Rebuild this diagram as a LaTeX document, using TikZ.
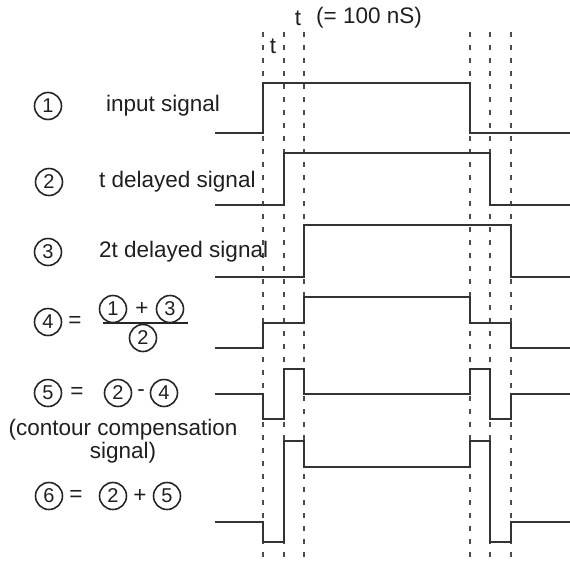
\documentclass[tikz,border=0pt]{standalone}
\usepackage{fontspec}
\setmainfont{Liberation Sans}
\begin{document}
\begin{tikzpicture}[x=1pt,y=-1pt,
  txt/.style={inner sep=0pt,font=\fontsize{22.5}{26}\selectfont,text=black!88},
  circnum/.style={draw=black!85,line width=1.6pt,circle,inner sep=0pt,minimum size=27pt,font=\fontsize{20}{23}\selectfont,text=black!88},
  sig/.style={draw=black!80,line width=2pt,line join=miter},
  guide/.style={draw=black!70,line width=1.2pt,dash pattern=on 5pt off 8pt}]
\useasboundingbox (0,0) rectangle (570,560);
% dashed time guides
\foreach \x in {263,284,304,470,490,511}{\draw[guide] (\x,32) -- (\x,560);}
% top labels
\node[txt] (tsmall) at (273,46) {t};
\node[txt] (ttop) at (298,18) {t};
\node[txt,anchor=west] (tval) at (316,18) {(= 100 nS)};
% signals
\draw[sig] (215,133) -- (263,133) -- (263,83) -- (470,83) -- (470,133) -- (570,133);
\draw[sig] (215,205) -- (284,205) -- (284,153) -- (490,153) -- (490,205) -- (570,205);
\draw[sig] (215,277) -- (304,277) -- (304,225) -- (511,225) -- (511,277) -- (570,277);
\draw[sig] (215,348) -- (263,348) -- (263,323) -- (304,323) -- (304,297) -- (470,297) -- (470,323) -- (511,323) -- (511,348) -- (570,348);
\draw[sig] (215,394) -- (263,394) -- (263,419) -- (284,419) -- (284,369) -- (304,369) -- (304,394) -- (470,394) -- (470,369) -- (490,369) -- (490,419) -- (511,419) -- (511,394) -- (570,394);
\draw[sig] (215,522) -- (263,522) -- (263,542) -- (284,542) -- (284,441) -- (304,441) -- (304,467) -- (470,467) -- (470,441) -- (490,441) -- (490,542) -- (511,542) -- (511,522) -- (570,522);
% row 1
\node[circnum] (c1) at (48,106) {1};
\node[txt] (l1) at (163,106) {input signal};
% row 2
\node[circnum] (c2) at (49,182) {2};
\node[txt,anchor=west] (l2) at (99,182) {t delayed signal};
% row 3
\node[circnum] (c3) at (48,252) {3};
\node[txt,anchor=west] (l3) at (99,252) {2t delayed signal};
% row 4
\node[circnum] (c4) at (48,322) {4};
\node[txt] (e4) at (75,322) {=};
\node[circnum] (f1) at (113,309) {1};
\node[txt] (p4) at (142,309) {+};
\node[circnum] (f3) at (170,309) {3};
\node[circnum] (f2) at (143,338) {2};
\draw[black!85,line width=1.3pt] (103,323) -- (188,323);
% row 5
\node[circnum] (c5) at (48,393) {5};
\node[txt] (e5) at (77,393) {=};
\node[circnum] (r2) at (118,393) {2};
\node[txt] (m5) at (141,393) {-};
\node[circnum] (r4) at (164,393) {4};
\node[txt] (cc1) at (123,430) {(contour compensation};
\node[txt] (cc2) at (123,453) {signal)};
% row 6
\node[circnum] (c6) at (49,496) {6};
\node[txt] (e6) at (76,496) {=};
\node[circnum] (s2) at (113,496) {2};
\node[txt] (p6) at (140,496) {+};
\node[circnum] (s5) at (167,496) {5};
\end{tikzpicture}
\end{document}
